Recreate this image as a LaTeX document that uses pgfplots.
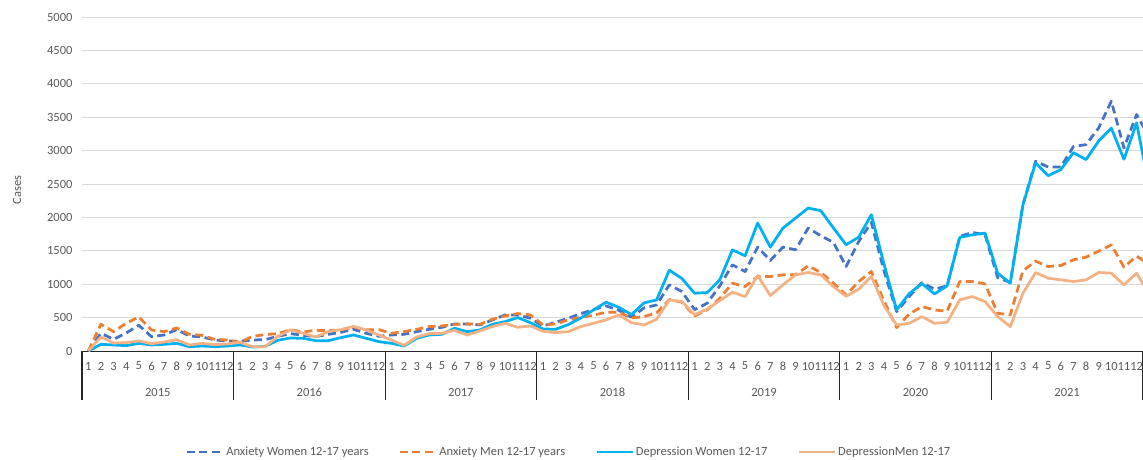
\documentclass[border=0pt]{standalone}
\usepackage{fontspec}
\setmainfont{Carlito}
\usepackage{pgfplots}
\usepackage{pgfplotstable}
\pgfplotsset{compat=1.18}
\definecolor{anxW}{HTML}{4472C4}
\definecolor{anxM}{HTML}{ED7D31}
\definecolor{depW}{HTML}{00B0F0}
\definecolor{depM}{HTML}{F4B183}
\definecolor{txtgray}{HTML}{595959}
\definecolor{gridgray}{HTML}{D9D9D9}
\definecolor{axisgray}{HTML}{262626}
\newcommand{\lbl}{\fontsize{12.5}{15}\selectfont}
\pgfplotstableread{
i aw am dw dm
0 0 0 0 0
1 265 400 100 210
2 175 290 90 120
3 270 415 80 125
4 385 510 115 150
5 215 315 90 110
6 240 290 100 135
7 320 345 115 170
8 225 250 65 90
9 210 235 75 115
10 165 175 65 95
11 150 165 75 105
12 145 130 90 130
13 165 220 60 65
14 170 245 70 65
15 220 260 160 220
16 260 320 195 315
17 235 285 190 265
18 215 310 155 210
19 250 305 155 290
20 280 315 200 320
21 325 360 240 370
22 265 320 190 315
23 220 320 140 240
24 240 265 115 165
25 250 290 75 85
26 290 325 190 210
27 325 365 240 260
28 355 375 250 265
29 405 400 340 310
30 405 405 290 240
31 390 400 315 300
32 465 475 400 365
33 540 525 440 415
34 540 560 500 355
35 490 540 425 375
36 375 390 330 295
37 430 405 325 275
38 490 465 395 290
39 560 505 495 365
40 620 535 615 415
41 675 580 730 465
42 610 580 655 540
43 505 495 545 425
44 645 515 720 390
45 690 570 765 475
46 990 770 1210 765
47 890 730 1085 740
48 620 525 865 545
49 715 615 875 625
50 975 790 1065 755
51 1290 1015 1515 880
52 1190 965 1425 815
53 1555 1115 1915 1130
54 1355 1115 1555 830
55 1555 1140 1840 990
56 1515 1140 1990 1140
57 1840 1275 2140 1175
58 1725 1175 2100 1140
59 1625 1015 1840 965
60 1265 840 1590 820
61 1640 1040 1705 925
62 1925 1190 2040 1115
63 1200 750 1300 680
64 590 350 615 390
65 815 555 860 415
66 1025 665 1010 515
67 925 615 855 415
68 975 595 975 430
69 1715 1040 1700 765
70 1775 1040 1740 815
71 1740 1005 1765 740
72 1100 565 1165 515
73 1025 540 1015 365
74 2190 1200 2190 865
75 2840 1345 2815 1175
76 2755 1265 2625 1090
77 2755 1280 2715 1065
78 3060 1365 2970 1040
79 3090 1405 2865 1065
80 3340 1495 3145 1175
81 3740 1590 3335 1165
82 3040 1255 2870 990
83 3540 1420 3415 1165
84 3200 1300 2450 850
}\data
\begin{document}
\begin{tikzpicture}
\begin{axis}[
  at={(0pt,0pt)}, anchor=south west,
  scale only axis, width=1061pt, height=334pt,
  xmin=-0.5, xmax=83.5, ymin=0, ymax=5000,
  clip mode=individual,
  axis x line*=bottom, axis y line*=left,
  y axis line style={draw=none},
  x axis line style={draw=axisgray, line width=1pt, -},
  ytick={0,500,...,5000},
  ymajorgrids, grid style={draw=gridgray, line width=1pt},
  major tick length=0pt,
  xtick style={draw=none}, ytick style={draw=none},
  xtick={0,...,83},
  xticklabels={1,2,3,4,5,6,7,8,9,10,11,12,1,2,3,4,5,6,7,8,9,10,11,12,1,2,3,4,5,6,7,8,9,10,11,12,1,2,3,4,5,6,7,8,9,10,11,12,1,2,3,4,5,6,7,8,9,10,11,12,1,2,3,4,5,6,7,8,9,10,11,12,1,2,3,4,5,6,7,8,9,10,11,12},
  tick label style={font=\lbl, text=txtgray},
  xticklabel style={yshift=-6pt, inner sep=0pt, anchor=center, yshift=-9pt},
  yticklabel style={xshift=-6pt},
  /pgf/number format/assume math mode=true,
  /pgf/number format/1000 sep={},
  scaled y ticks=false,
  extra x ticks={-0.5,11.5,23.5,35.5,47.5,59.5,71.5,83.5},
  extra x tick labels={},
  extra x tick style={major tick length=49pt, tick align=outside, xtick style={draw=axisgray, line width=1.1pt}, xmajorgrids=false},
  ylabel={Cases},
  every axis y label/.style={at={(axis description cs:0,0.482)}, xshift=-65pt, rotate=90, anchor=center, font=\lbl, text=txtgray},
  legend columns=4,
  legend style={at={(axis description cs:0.459,0)}, anchor=center, yshift=-101pt, draw=none, fill=none, font=\lbl, text=txtgray, /tikz/every even column/.append style={column sep=28pt}},
  legend image code/.code={\draw[#1] (0pt,0pt) -- (36pt,0pt);},
]
\addplot[anxW, line width=2.75pt, dash pattern=on 8pt off 4.5pt, line join=round] table[x=i,y=aw]{\data};
\addlegendentry{Anxiety Women 12-17 years}
\addplot[anxM, line width=2.75pt, dash pattern=on 8pt off 4.5pt, line join=round] table[x=i,y=am]{\data};
\addlegendentry{Anxiety Men 12-17 years}
\addplot[depW, line width=2.75pt, line join=round] table[x=i,y=dw]{\data};
\addlegendentry{Depression Women 12-17}
\addplot[depM, line width=2.75pt, line join=round] table[x=i,y=dm]{\data};
\addlegendentry{DepressionMen 12-17}
\node[font=\lbl, text=txtgray, yshift=-41pt] at (axis cs:5.5,0) {2015};
\node[font=\lbl, text=txtgray, yshift=-41pt] at (axis cs:17.5,0) {2016};
\node[font=\lbl, text=txtgray, yshift=-41pt] at (axis cs:29.5,0) {2017};
\node[font=\lbl, text=txtgray, yshift=-41pt] at (axis cs:41.5,0) {2018};
\node[font=\lbl, text=txtgray, yshift=-41pt] at (axis cs:53.5,0) {2019};
\node[font=\lbl, text=txtgray, yshift=-41pt] at (axis cs:65.5,0) {2020};
\node[font=\lbl, text=txtgray, yshift=-41pt] at (axis cs:77.5,0) {2021};
\end{axis}
\pgfresetboundingbox
\useasboundingbox (-82pt,-108pt) rectangle (1061pt,351pt);
\end{tikzpicture}
\end{document}
